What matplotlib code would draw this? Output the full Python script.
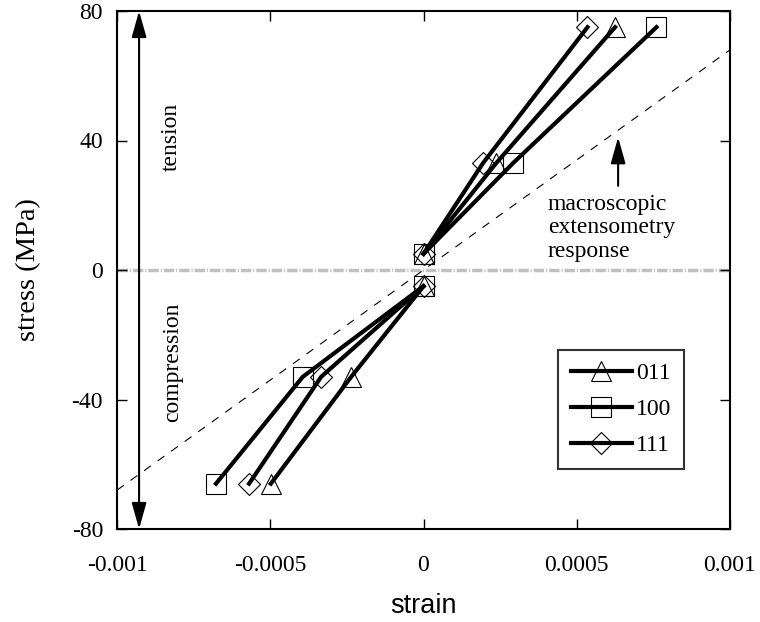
import matplotlib
matplotlib.use("Agg")
import matplotlib.pyplot as plt
import numpy as np

# ---- data ----
labels = ["011", "100", "111"]
markers = ["^", "s", "D"]
marker_sizes = [14.5, 15, 11]

stress_compression = [-66, -33, -5]
stress_tension = [5, 33, 75]

strain_011_comp = [-0.000498, -0.000236, 0.0]
strain_011_tens = [0.0, 0.000237, 0.000625]
strain_100_comp = [-0.000677, -0.000394, 0.0]
strain_100_tens = [0.0, 0.000292, 0.000760]
strain_111_comp = [-0.000569, -0.000334, 0.0]
strain_111_tens = [0.0, 0.000194, 0.000535]

comp_strains = [strain_011_comp, strain_100_comp, strain_111_comp]
tens_strains = [strain_011_tens, strain_100_tens, strain_111_tens]

macro_strain = [-0.001, 0.001]
macro_stress = [-68, 68]

xticks = [-0.001, -0.0005, 0, 0.0005, 0.001]
xticklabels = ["-0.001", "-0.0005", "0", "0.0005", "0.001"]
yticks = [-80, -40, 0, 40, 80]
yticklabels = ["-80", "-40", "0", "40", "80"]

plt.rcParams["lines.scale_dashes"] = False
serif = "Liberation Serif"
sans = "Liberation Sans"
FS = 17

fig = plt.figure(figsize=(7.6, 6.22), dpi=100)
ax = fig.add_axes([117 / 760, 1 - 529 / 622, (730 - 117) / 760, (529 - 11) / 622])

ax.set_xlim(-0.001, 0.001)
ax.set_ylim(-80, 80)

# zero line
ax.axhline(0, color="#c0c0c0", lw=2.5, dashes=(7.5, 1.4, 0.8, 1.4), zorder=1)
# macroscopic response
ax.plot(macro_strain, macro_stress, color="black", lw=0.8, dashes=(6, 6), zorder=2)

for sc, st, lab, m, ms in zip(comp_strains, tens_strains, labels, markers, marker_sizes):
    style = dict(color="black", lw=3, marker=m, markersize=ms,
                 markerfacecolor="none", markeredgecolor="black", markeredgewidth=0.8,
                 zorder=3)
    ax.plot(sc, stress_compression, label=lab, **style)
    ax.plot(st, stress_tension, **style)

arrow_style = dict(arrowstyle="-|>,head_length=1.6,head_width=0.45",
                   lw=1.5, color="black", shrinkA=0, shrinkB=0)

# tension / compression arrow
xa = -0.000928
ax.annotate("", xy=(xa, 80), xytext=(xa, 0), arrowprops=arrow_style)
ax.annotate("", xy=(xa, -80), xytext=(xa, 0), arrowprops=arrow_style)
ax.text(-0.000824, 41, "tension", rotation=90, ha="center", va="center",
        family=serif, fontsize=FS)
ax.text(-0.000817, -28.4, "compression", rotation=90, ha="center", va="center",
        family=serif, fontsize=FS)

# macroscopic arrow and label
ax.annotate("", xy=(0.000635, 41), xytext=(0.000635, 26), arrowprops=arrow_style)
ax.text(0.000405, 23.5, "macroscopic\nextensometry\nresponse", ha="left", va="top",
        family=serif, fontsize=FS, linespacing=1.15)

# axes styling
for sp in ax.spines.values():
    sp.set_linewidth(1.5)
ax.set_xticks(xticks)
ax.set_xticklabels(xticklabels, family=serif, fontsize=FS)
ax.set_yticks(yticks)
ax.set_yticklabels(yticklabels, family=serif, fontsize=FS)
ax.tick_params(axis="both", direction="in", length=7, width=1, top=True, right=True)
ax.tick_params(axis="x", pad=19)
ax.tick_params(axis="y", pad=10)

ax.set_xlabel("strain", family=sans, fontsize=19.5, labelpad=12)
ax.set_ylabel("stress (MPa)", family=serif, fontsize=20.5, labelpad=22)

leg = ax.legend(loc="upper left", bbox_to_anchor=(0.719, 0.3456), borderaxespad=0,
                prop=dict(family=serif, size=FS), frameon=True, fancybox=False,
                handlelength=2.6, handletextpad=0.15, borderpad=0.55, labelspacing=0.6)
leg.get_frame().set_edgecolor("black")
leg.get_frame().set_linewidth(1.5)

fig.savefig("out.png", dpi=100)
